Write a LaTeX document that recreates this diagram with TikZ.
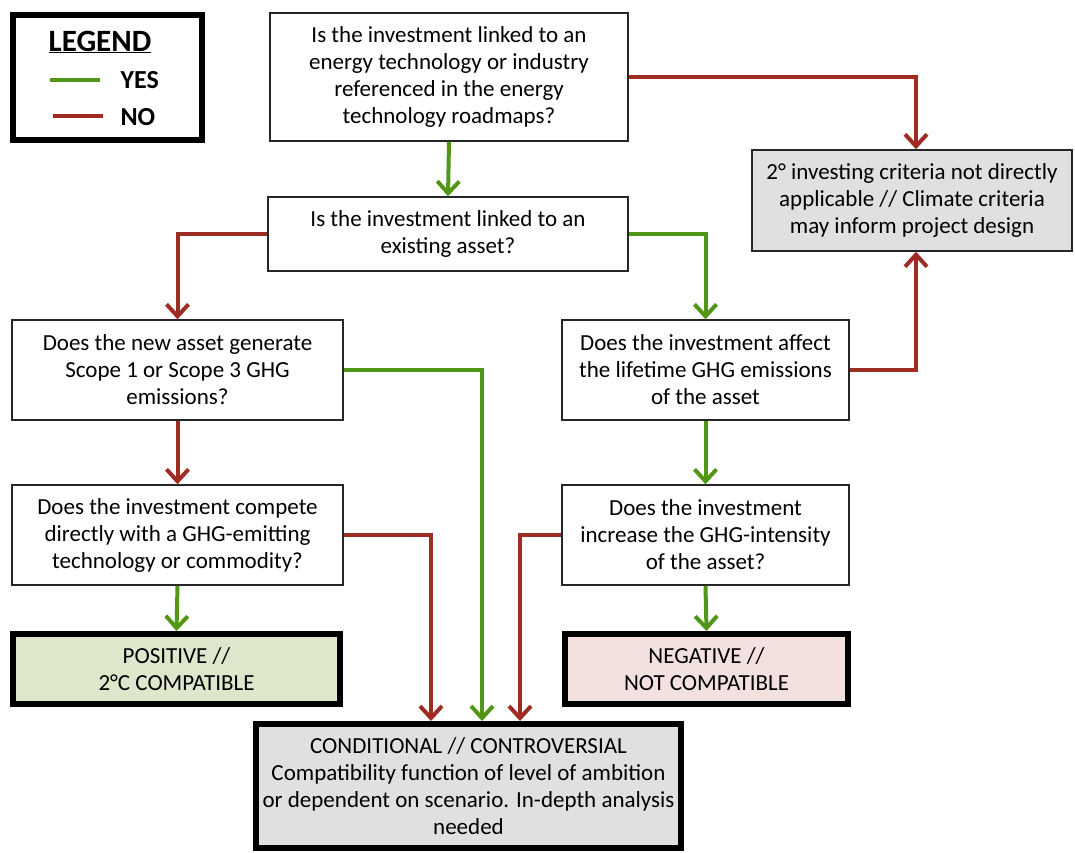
\documentclass[tikz,border=0pt]{standalone}
\usepackage{fontspec}
\setmainfont{Carlito}
\usetikzlibrary{arrows.meta}
\definecolor{yesgreen}{RGB}{82,150,22}
\definecolor{nored}{RGB}{158,44,34}
\definecolor{posfill}{RGB}{222,231,204}
\definecolor{negfill}{RGB}{243,225,223}
\definecolor{grayfill}{RGB}{224,224,224}
\tikzset{
  qbox/.style={draw=black!85, line width=1.5pt, fill=white, align=center,
    inner sep=0pt, font=\fontsize{23}{27}\selectfont},
  outbox/.style={draw=black, line width=6pt, align=center, inner sep=0pt,
    font=\fontsize{23}{27}\selectfont},
  yesarrow/.style={draw=yesgreen, line width=4pt, -{Straight Barb[length=12pt,width=22pt]}},
  noarrow/.style={draw=nored, line width=4pt, -{Straight Barb[length=12pt,width=22pt]}},
}
\begin{document}
\begin{tikzpicture}[x=1pt, y=-1pt]
\useasboundingbox (0,0) rectangle (1075,852);

% legend
\node[draw=black, line width=6pt, minimum width=189pt, minimum height=125pt, inner sep=0pt] (legend) at (107.5,77.5) {};
\node[font=\fontsize{31}{34}\selectfont\bfseries] (legtitle) at (100,42) {\underline{LEGEND}};
\coordinate (ly1) at (50,80);
\coordinate (ly2) at (100,80);
\coordinate (ln1) at (53,116);
\coordinate (ln2) at (103,116);
\draw[yesgreen, line width=4pt] (ly1) -- (ly2);
\draw[nored, line width=4pt] (ln1) -- (ln2);
\node[anchor=west, font=\fontsize{26}{30}\selectfont\bfseries] (yes) at (117,80) {YES};
\node[anchor=west, font=\fontsize{26}{30}\selectfont\bfseries] (no) at (117,117) {NO};

% questions
\node[qbox, minimum width=358pt, minimum height=128pt] (q1) at (449,77)
  {Is the investment linked to an\\energy technology or industry\\referenced in the energy\\technology roadmaps?};
\node[qbox, minimum width=360pt, minimum height=74pt] (q2) at (448,234)
  {Is the investment linked to an\\existing asset?};
\node[qbox, fill=grayfill, minimum width=320pt, minimum height=101pt] (crit) at (912,200.5)
  {2° investing criteria not directly\\applicable // Climate criteria\\may inform project design};
\node[qbox, minimum width=331pt, minimum height=100pt] (q3) at (177.5,370)
  {Does the new asset generate\\Scope 1 or Scope 3 GHG\\emissions?};
\node[qbox, minimum width=287pt, minimum height=100pt] (q4) at (705.5,370)
  {Does the investment affect\\the lifetime GHG emissions\\of the asset};
\node[qbox, minimum width=331pt, minimum height=100pt] (q5) at (177.5,535)
  {Does the investment compete\\directly with a GHG-emitting\\technology or commodity?};
\node[qbox, minimum width=287pt, minimum height=100pt] (q6) at (705.5,535)
  {Does the investment\\increase the GHG-intensity\\of the asset?};

% outcomes
\node[outbox, fill=posfill, minimum width=327pt, minimum height=70pt] (pos) at (176.5,669)
  {POSITIVE //\\2°C COMPATIBLE};
\node[outbox, fill=negfill, minimum width=283pt, minimum height=70pt] (neg) at (706.5,669)
  {NEGATIVE //\\NOT COMPATIBLE};
\node[outbox, fill=grayfill, minimum width=425pt, minimum height=124pt] (cond) at (468.5,786)
  {CONDITIONAL // CONTROVERSIAL\\Compatibility function of level of ambition\\or dependent on scenario. In-depth analysis\\needed};

% connectors
\draw[yesarrow] (q1.south) -- (q2.north);
\draw[noarrow] (q1.east) -| ([xshift=4pt]crit.north);
\draw[noarrow] (q2.west) -| (q3.north);
\draw[yesarrow] (q2.east) -| (q4.north);
\draw[yesarrow] (q3.east) -| ([xshift=13.5pt]cond.north);
\draw[noarrow] (q3.south) -- (q5.north);
\draw[noarrow] (q4.east) -| ([xshift=4pt]crit.south);
\draw[yesarrow] (q4.south) -- (q6.north);
\draw[yesarrow] (q5.south) -- (pos.north);
\draw[noarrow] (q5.east) -| ([xshift=-37.5pt]cond.north);
\draw[noarrow] (q6.west) -| ([xshift=51.5pt]cond.north);
\draw[yesarrow] (q6.south) -- (neg.north);
\end{tikzpicture}
\end{document}
